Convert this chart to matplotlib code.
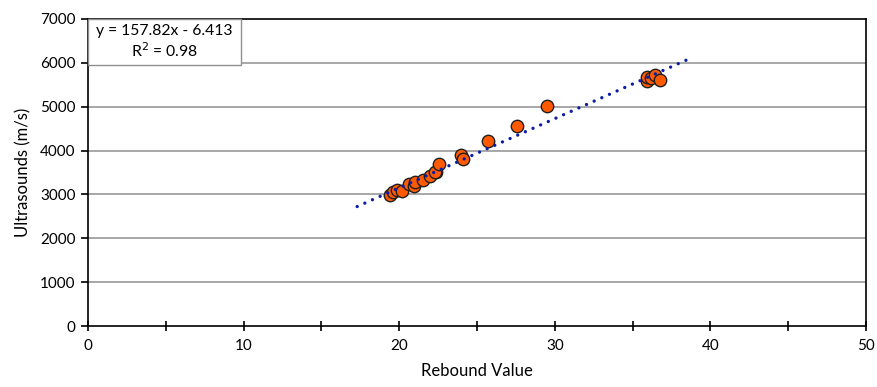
import matplotlib
matplotlib.use("Agg")
import matplotlib.pyplot as plt
from matplotlib.patches import Rectangle
import numpy as np

plt.rcParams['font.family'] = ['Lato', 'DejaVu Sans']

rebound = [19.4, 19.6, 19.85, 20.2, 20.6, 20.95, 21.0, 21.55, 22.0, 22.35, 22.3, 22.55,
           24.0, 24.1, 25.7, 27.6, 29.5, 35.9, 35.95, 36.2, 36.45, 36.75]
ultrasound = [2980, 3060, 3110, 3070, 3240, 3190, 3290, 3340, 3430, 3500, 3520, 3700,
              3900, 3800, 4220, 4570, 5010, 5580, 5680, 5650, 5730, 5600]
slope = 157.82
intercept = -6.413
trend_range = [17.3, 38.7]
eq_text = "y = 157.82x - 6.413\nR$^2$ = 0.98"

fig = plt.figure(figsize=(8.77, 3.87), dpi=100)
ax = fig.add_axes([0.1003, 0.1576, 0.8872, 0.7934])

for yv in range(1000, 7000, 1000):
    ax.axhline(yv, color='#a0a0a0', lw=1.3, zorder=0)

ax.scatter(rebound, ultrasound, s=80, c='#ff5a00', edgecolors='#202020', linewidths=1.0, zorder=3)

tx = np.linspace(trend_range[0], trend_range[1], 50)
ax.plot(tx, slope * tx + intercept, color='#0a1ca8', lw=2.4,
        linestyle=(0, (0.01, 2.5)), dash_capstyle='round', zorder=4)

ax.set_xlim(0, 50)
ax.set_ylim(0, 7000)
ax.set_xticks(np.arange(0, 51, 5))
ax.set_xticklabels([str(v) if v % 10 == 0 else '' for v in range(0, 51, 5)])
ax.set_yticks(np.arange(0, 7001, 1000))
ax.tick_params(axis='x', direction='inout', length=7, width=1.2, labelsize=11, pad=6, colors='#000000')
ax.tick_params(axis='y', direction='out', length=5, width=1.2, labelsize=11, pad=4)
for s in ax.spines.values():
    s.set_color('#000000')
    s.set_linewidth(1.2)

ax.set_xlabel('Rebound Value', fontsize=12, labelpad=7)
ax.set_ylabel('Ultrasounds (m/s)', fontsize=12, labelpad=6)

ax.add_patch(Rectangle((0.0, 0.850), 0.197, 0.150, transform=ax.transAxes,
                       facecolor='white', edgecolor='#909090', lw=1.0, zorder=5, clip_on=False))
ax.text(0.0985, 0.925, eq_text, transform=ax.transAxes, ha='center', va='center',
        fontsize=11.3, linespacing=1.2, zorder=6)

fig.savefig('out.png', dpi=100)
